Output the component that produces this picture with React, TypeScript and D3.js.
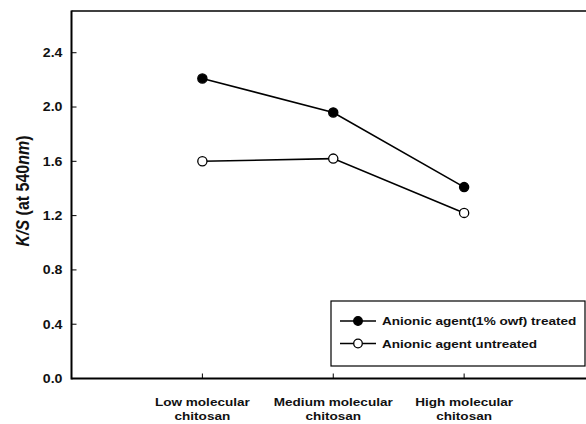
import * as d3 from 'd3';

const categories = [
  ['Low molecular', 'chitosan'],
  ['Medium molecular', 'chitosan'],
  ['High molecular', 'chitosan']
];
const treatedValues = [2.21, 1.96, 1.41];
const untreatedValues = [1.6, 1.62, 1.22];
const yTicks = [0.0, 0.4, 0.8, 1.2, 1.6, 2.0, 2.4];
const seriesNames = ['Anionic agent(1% owf) treated', 'Anionic agent untreated'];

const width = 586;
const height = 424;
const plot = { left: 71.5, right: 595, top: 12, bottom: 378.5 };
const font = '"Liberation Sans", Arial, sans-serif';
// the scanned figure is a bit wider than tall, so the glyphs are stretched sideways
const stretch = 1.18;

function Label(props: { x: number; y: number; anchor?: string; size: number; children: any; dy?: string }) {
  return (
    <g transform={`translate(${props.x}, ${props.y}) scale(${stretch}, 1)`}>
      <text textAnchor={props.anchor ?? 'start'} fontSize={props.size} dy={props.dy}>
        {props.children}
      </text>
    </g>
  );
}

export default function App() {
  const x = d3.scaleLinear().domain([0, 4]).range([plot.left, plot.right]);
  const y = d3.scaleLinear().domain([0, 2.7]).range([plot.bottom, plot.top]);

  const line = d3
    .line<number>()
    .x((_, i) => x(i + 1))
    .y((d) => y(d));

  const series = [
    { name: seriesNames[0], values: treatedValues, fill: '#000' },
    { name: seriesNames[1], values: untreatedValues, fill: '#fff' }
  ];

  const legend = { x: 331, y: 301, w: 254, h: 65 };

  return (
    <svg
      width={width}
      height={height}
      style={{ position: 'absolute', left: 0, top: 0, background: '#fff' }}
      fontFamily={font}
      fontWeight="bold"
      fill="#111"
    >
      {/* frame */}
      <line x1={plot.left} x2={width} y1={plot.top - 1} y2={plot.top - 1} stroke="#000" strokeWidth={1.5} />
      <line x1={plot.left} x2={plot.left} y1={plot.top - 1.5} y2={plot.bottom + 1} stroke="#000" strokeWidth={2} />
      <line x1={plot.left} x2={width} y1={plot.bottom} y2={plot.bottom} stroke="#000" strokeWidth={2} />

      {/* y ticks */}
      {yTicks.map((t) => (
        <g key={t}>
          <line x1={plot.left} x2={plot.left + 5} y1={y(t)} y2={y(t)} stroke="#000" strokeWidth={1} />
          <Label x={plot.left - 9} y={y(t)} anchor="end" size={12} dy="0.36em">
            {t.toFixed(1)}
          </Label>
        </g>
      ))}

      {/* x ticks and labels */}
      {categories.map((c, i) => (
        <g key={c[0]}>
          <line x1={x(i + 1)} x2={x(i + 1)} y1={plot.bottom} y2={plot.bottom - 5} stroke="#000" strokeWidth={1} />
          <Label x={x(i + 1)} y={405.5} anchor="middle" size={11.5}>
            {c[0]}
          </Label>
          <Label x={x(i + 1)} y={420} anchor="middle" size={11.5}>
            {c[1]}
          </Label>
        </g>
      ))}

      {/* y label */}
      <g transform={`translate(28.5, 191) scale(${stretch}, 1) rotate(-90)`}>
        <text textAnchor="middle" fontSize={16}>
          <tspan fontStyle="italic">K/S</tspan> (at 540<tspan fontStyle="italic">nm</tspan>)
        </text>
      </g>

      {/* series */}
      {series.map((s) => (
        <g key={s.name}>
          <path d={line(s.values) ?? ''} fill="none" stroke="#000" strokeWidth={1.6} />
          {s.values.map((v, i) => (
            <circle key={i} cx={x(i + 1)} cy={y(v)} r={4.6} fill={s.fill} stroke="#000" strokeWidth={1.3} />
          ))}
        </g>
      ))}

      {/* legend */}
      <rect x={legend.x} y={legend.y} width={legend.w} height={legend.h} fill="#fff" stroke="#000" strokeWidth={1.2} />
      {series.map((s, i) => {
        const ly = legend.y + 20 + i * 22.5;
        return (
          <g key={s.name}>
            <line x1={legend.x + 9} x2={legend.x + 45} y1={ly} y2={ly} stroke="#000" strokeWidth={1.5} />
            <circle cx={legend.x + 27} cy={ly} r={4.3} fill={s.fill} stroke="#000" strokeWidth={1.3} />
            <Label x={legend.x + 51} y={ly} size={11.5} dy="0.36em">
              {s.name}
            </Label>
          </g>
        );
      })}
    </svg>
  );
}
